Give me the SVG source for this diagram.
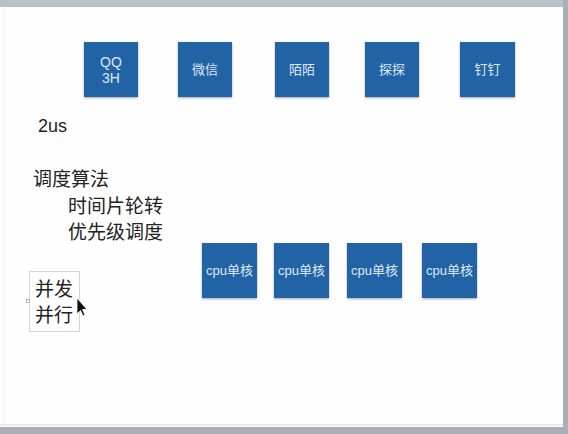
<svg xmlns="http://www.w3.org/2000/svg" width="568" height="434" viewBox="0 0 568 434">
<defs>
<filter id="sh" x="-10%" y="-10%" width="130%" height="130%">
<feDropShadow dx="0" dy="1" stdDeviation="0.8" flood-color="#000" flood-opacity="0.35"/>
</filter>
<style>
.box{fill:#2264a6;filter:url(#sh)}
.bt{font-family:"Liberation Sans","Noto Sans CJK SC",sans-serif;font-size:13px;fill:#dce9f6;text-anchor:middle}
.t{font-family:"Liberation Sans","Noto Sans CJK SC",sans-serif;font-size:19px;fill:#222}
</style>
</defs>
<rect x="0" y="0" width="568" height="434" fill="#fefefe"/>
<rect x="0" y="0" width="568" height="7" fill="#b9c0c7"/>
<rect x="563" y="0" width="5" height="434" fill="#a9afb4"/>
<rect x="0" y="427" width="568" height="7" fill="#a9afb4"/>
<line x1="0" y1="425" x2="563" y2="425" stroke="#d6d9dc" stroke-width="1"/>
<line x1="4.5" y1="7" x2="4.5" y2="425" stroke="#f3f3f3" stroke-width="1"/>

<g id="qq"><rect class="box" x="84" y="42" width="54" height="55"/><text class="bt" x="111" y="67" style="font-size:14px">QQ</text><text class="bt" x="111" y="83" style="font-size:14px">3H</text></g>
<g id="weixin"><rect class="box" x="178" y="42" width="54" height="55"/><text class="bt" x="205" y="74">微信</text></g>
<g id="momo"><rect class="box" x="275" y="42" width="54" height="55"/><text class="bt" x="302" y="74">陌陌</text></g>
<g id="tantan"><rect class="box" x="365" y="42" width="54" height="55"/><text class="bt" x="392" y="74">探探</text></g>
<g id="dingding"><rect class="box" x="460" y="42" width="55" height="55"/><text class="bt" x="487.5" y="74">钉钉</text></g>

<g id="cpu1"><rect class="box" x="202" y="243" width="55" height="55"/><text class="bt" x="229.5" y="275">cpu单核</text></g>
<g id="cpu2"><rect class="box" x="274" y="243" width="55" height="55"/><text class="bt" x="301.5" y="275">cpu单核</text></g>
<g id="cpu3"><rect class="box" x="347" y="243" width="55" height="55"/><text class="bt" x="374.5" y="275">cpu单核</text></g>
<g id="cpu4"><rect class="box" x="422" y="243" width="55" height="55"/><text class="bt" x="449.5" y="275">cpu单核</text></g>

<g id="connectors"></g>

<g id="notes">
<text class="t" x="38" y="132" style="font-size:18px">2us</text>
<text class="t" x="33" y="186">调度算法</text>
<text class="t" x="68" y="213">时间片轮转</text>
<text class="t" x="68" y="239">优先级调度</text>
</g>

<g id="concurrency">
<rect x="29.5" y="271.5" width="50" height="60" fill="#fff" stroke="#d5d5d5" stroke-width="1"/>
<rect x="26.5" y="299.5" width="3" height="3" fill="#fff" stroke="#999" stroke-width="0.7"/>
<text class="t" x="35" y="296">并发</text>
<text class="t" x="35" y="322">并行</text>
<path d="M77,298 L77,314 L80.5,310.5 L83,316 L85,315 L82.5,309.5 L87,309.5 Z" fill="#111" stroke="#fff" stroke-width="0.8"/>
</g>
</svg>
